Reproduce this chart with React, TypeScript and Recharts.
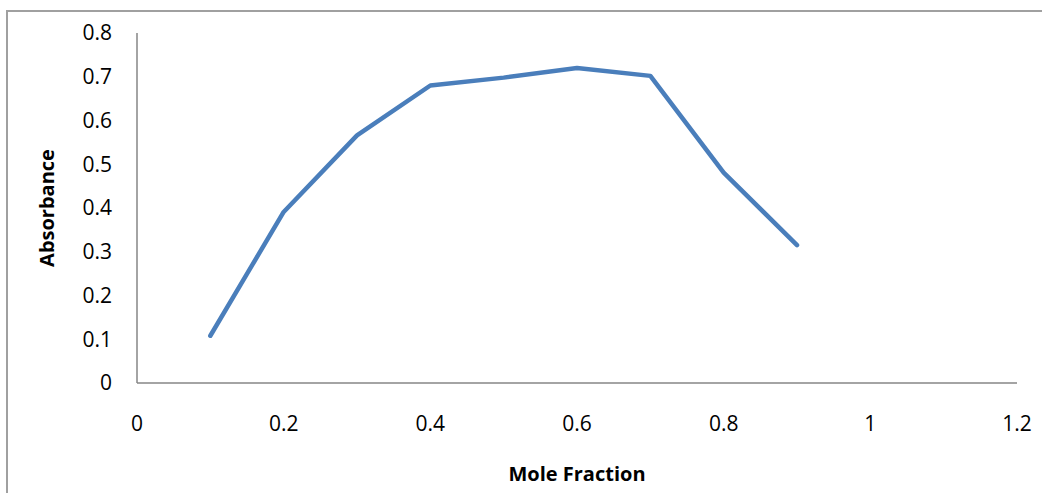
import { LineChart, Line, XAxis, YAxis, Label } from 'recharts';

const moleFraction = [0.1, 0.2, 0.3, 0.4, 0.5, 0.6, 0.7, 0.8, 0.9];
const absorbance = [0.108, 0.391, 0.566, 0.68, 0.698, 0.72, 0.702, 0.481, 0.315];
const xTicks = [0, 0.2, 0.4, 0.6, 0.8, 1, 1.2];
const yTicks = [0, 0.1, 0.2, 0.3, 0.4, 0.5, 0.6, 0.7, 0.8];

const data = moleFraction.map((x, i) => ({ x, y: absorbance[i] }));

const font = '"Open Sans", "Noto Sans", sans-serif';
const axisGray = '#868686';
const frameGray = '#a0a0a0';

export default function App() {
  return (
    <div style={{ position: 'fixed', left: 0, top: 0, width: 1042, height: 493, background: '#fff', overflow: 'hidden' }}>
      <div style={{ position: 'absolute', left: 0, top: 0 }}>
        <LineChart width={1042} height={493} data={data} margin={{ top: 33, right: 25, left: 0, bottom: 0 }}>
          <XAxis
            dataKey="x"
            type="number"
            domain={[0, 1.2]}
            ticks={xTicks}
            tickFormatter={(v) => String(v)}
            height={110}
            stroke={axisGray}
            strokeWidth={1.5}
            tickLine={false}
            tickSize={0}
            tickMargin={33}
            tick={{ fill: '#000', fontSize: 21, fontFamily: font }}
          >
            <Label
              value="Mole Fraction"
              position="insideBottom"
              offset={12}
              style={{ fill: '#000', fontSize: 20, fontWeight: 700, fontFamily: font }}
            />
          </XAxis>
          <YAxis
            type="number"
            domain={[0, 0.8]}
            ticks={yTicks}
            tickFormatter={(v) => String(v)}
            width={137}
            stroke={axisGray}
            strokeWidth={1.5}
            tickLine={false}
            tickSize={0}
            tickMargin={25}
            tick={{ fill: '#000', fontSize: 21, fontFamily: font }}
          >
            <Label
              value="Absorbance"
              angle={-90}
              position="insideLeft"
              offset={47}
              style={{ textAnchor: 'middle', fill: '#000', fontSize: 20, fontWeight: 700, fontFamily: font }}
            />
          </YAxis>
          <Line
            type="linear"
            dataKey="y"
            stroke="#4a7ebb"
            strokeWidth={4.5}
            strokeLinecap="round"
            strokeLinejoin="round"
            dot={false}
            activeDot={false}
            isAnimationActive={false}
          />
        </LineChart>
      </div>
      {/* outer chart frame: only the top and left edges fall inside the picture */}
      <div style={{ position: 'absolute', left: 6, top: 10, width: 1040, height: 2, background: frameGray }} />
      <div style={{ position: 'absolute', left: 6, top: 10, width: 2, height: 490, background: frameGray }} />
    </div>
  );
}
